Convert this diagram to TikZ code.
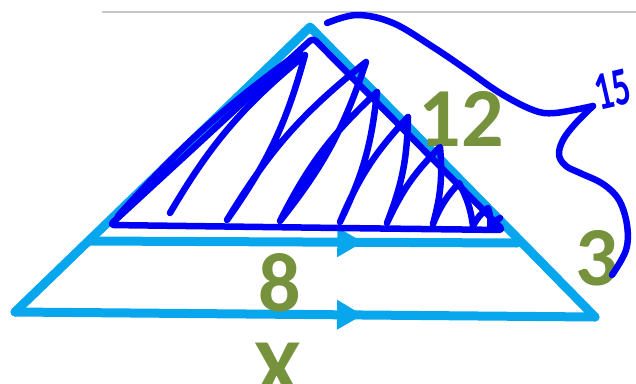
\documentclass[tikz,border=0pt]{standalone}
\usepackage{fontspec}
\setmainfont{Carlito}
\usetikzlibrary{arrows.meta, decorations.markings}

\definecolor{skyline}{RGB}{8,166,236}
\definecolor{ink}{RGB}{0,0,245}
\definecolor{olivegreen}{RGB}{118,146,60}

\begin{document}
\begin{tikzpicture}[
  x=1pt, y=-1pt,
  edge/.style={skyline, line width=9pt, line join=round, line cap=round},
  scribble/.style={ink, line width=6.5pt, line join=round, line cap=round},
  lbl/.style={text=olivegreen, inner sep=0pt,
              font=\fontsize{84}{84}\selectfont\bfseries},
  hand/.style={text=ink, inner sep=0pt,
               font=\fontsize{54}{54}\selectfont\bfseries},
  midarr/.style={postaction={decorate}, decoration={markings,
      mark=at position #1 with {\arrow{Triangle[length=26pt, width=28pt]}}}}
]
\useasboundingbox (0,0) rectangle (636,383);
%% page rule
\coordinate (ruleL) at (102,12);
\coordinate (ruleR) at (636,12);
\draw[gray!45, line width=1.2pt] (ruleL) -- (ruleR);
%% big triangle
\coordinate (apex) at (310,27);
\coordinate (bl) at (15,312);
\coordinate (br) at (595,317);
\coordinate (ml) at (90,241);
\coordinate (mr) at (517,243);
\draw[edge] (bl) -- (apex) -- (br);
\draw[edge, midarr=0.6] (bl) -- (br);
\draw[edge, midarr=0.64] (ml) -- (mr);
%% side lengths
\node[lbl] (twelve) at (461,119) {12};
\node[lbl] (eight) at (280,283) {8};
\node[lbl] (three) at (597,258) {3};
\node[lbl] (ex) at (278,370) {X};
%% shaded small triangle
\coordinate (ia) at (313,38);
\coordinate (il) at (110,225);
\coordinate (ir) at (503,230);
\draw[scribble, rounded corners=4pt] (il) -- (ia) -- (ir) -- (340,228) -- cycle;
\draw[scribble] (118,216) to[bend left=6] (300,52);
\draw[scribble]
  (170,213) to[bend left=10] (305,55) to[bend left=10] (227,220)
  to[bend left=10] (366,62) to[bend left=10] (280,221)
  to[bend left=10] (377,92) to[bend left=10] (340,222)
  to[bend left=10] (408,117) to[bend left=10] (387,223)
  to[bend left=10] (440,147) to[bend left=10] (433,224)
  to[bend left=10] (459,183) to[bend left=10] (473,226)
  to[bend left=12] (488,208) to[bend left=12] (490,228)
  to[bend left=15] (500,218);
%% brace for the whole side
\draw[scribble, smooth, tension=0.6] plot coordinates {
  (327,23) (357,15) (393,23) (433,47) (467,70) (500,93) (533,110)
  (555,113) (593,106)};
\draw[scribble, smooth, tension=0.6] plot coordinates {
  (593,106) (575,124) (563,140) (559,155) (566,166) (580,173) (603,184)
  (619,200) (627,225) (626,250) (612,275)};
\node[hand, rotate=13, xscale=0.64] (fifteen) at (613,90) {15};
\end{tikzpicture}
\end{document}
